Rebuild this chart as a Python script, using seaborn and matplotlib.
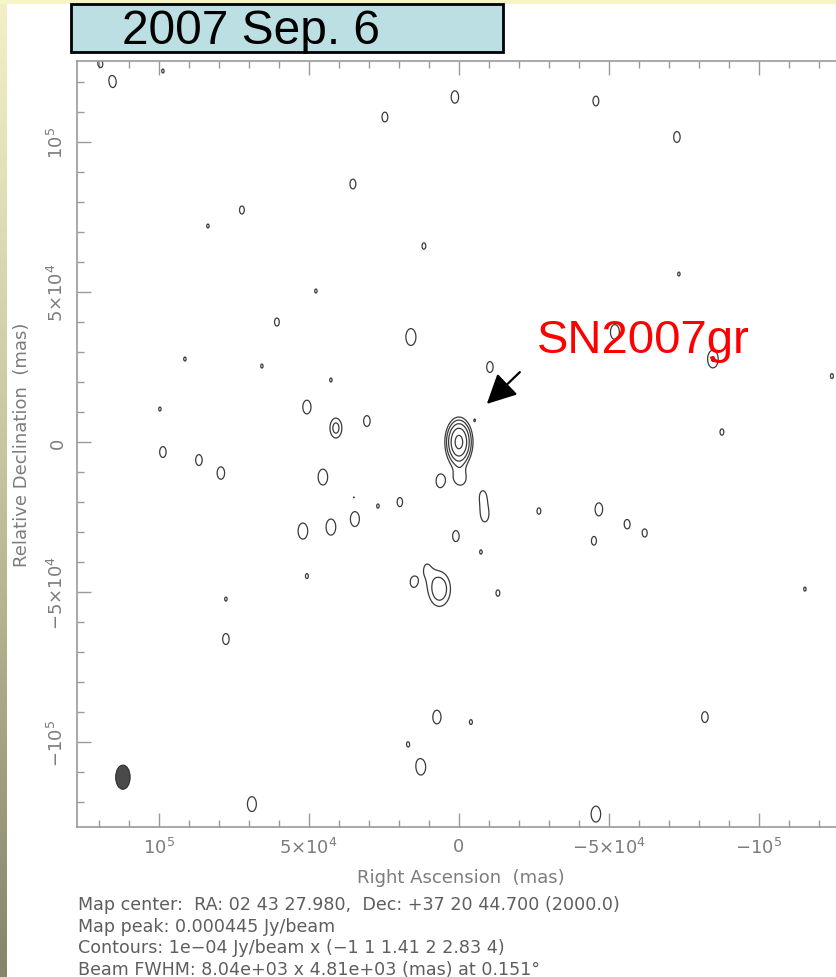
import numpy as np
import matplotlib
matplotlib.use("Agg")
import matplotlib.pyplot as plt
from matplotlib.patches import Ellipse, Rectangle
from matplotlib.colors import LinearSegmentedColormap
from matplotlib.ticker import MultipleLocator, FixedLocator, FixedFormatter
import seaborn as sns

# ---------------------------------------------------------------------------
# Clean-component model of the 2007 Sep. 6 map (offsets in mas, peaks in Jy/beam)
# ---------------------------------------------------------------------------
# Unresolved components (restored with the beam)
pt_ra = [115333, 119667, 98667, 1333, -45667, 24667, -72667, 35333, 72333, 83667,
         11667, -73333, 47667, 60667, 16000, 91333, 65667, -10333, -84667, -52000,
         -124333, 42667, 99667, 50667, 41000, 30667, 6333, -8000, 27000,
         19667, 45333, 34667, 42667, 52000, -8667, 1000, -7333, 50667,
         -26667, -46667, -56000, -62000, -45000, 15333, -13000, 77667, 77667, -115333,
         -87667, 7333, -4000, -82000, 17000, 12667, 69000, -45667, 98667, 86667,
         79333]
pt_dec = [120000, 126333, 123667, 115000, 113667, 108333, 101667, 86000, 77333, 72000,
          65333, 56000, 50333, 40000, 35000, 27667, 25333, 25000, 27667, 36667,
          22000, 20667, 11000, 11667, 4667, 7000, -13000, -17667, -21333,
          -20000, -11667, -25667, -28333, -29667, -24667, -31333, -36667, -44667,
          -23000, -22333, -27333, -30333, -33000, -46667, -50333, -52333, -65667, -49000,
          3333, -91667, -93333, -91667, -100667, -108333, -120667, -124000, -3333, -6000,
          -10333]
pt_peak = [1.15e-4, 1.05e-4, 1.02e-4, 1.20e-4, 1.12e-4, 1.12e-4, 1.15e-4, 1.12e-4, 1.08e-4, 1.02e-4,
           1.05e-4, 1.02e-4, 1.02e-4, 1.08e-4, 1.40e-4, 1.02e-4, 1.02e-4, 1.15e-4, 1.45e-4, 1.30e-4,
           1.03e-4, 1.02e-4, 1.02e-4, 1.25e-4, 1.60e-4, 1.15e-4, 1.20e-4, 1.03e-4, 1.02e-4,
           1.10e-4, 1.35e-4, 1.30e-4, 1.36e-4, 1.36e-4, 1.12e-4, 1.15e-4, 1.02e-4, 1.03e-4,
           1.05e-4, 1.20e-4, 1.10e-4, 1.07e-4, 1.08e-4, 1.06e-4, 1.05e-4, 1.02e-4, 1.15e-4, 1.02e-4,
           1.05e-4, 1.25e-4, 1.03e-4, 1.15e-4, 1.02e-4, 1.35e-4, 1.30e-4, 1.35e-4, 1.15e-4, 1.15e-4,
           1.20e-4]

# Resolved / compact components: SN2007gr core, its southern extension,
# the southern blob, and two compact knots next to brighter emission
ext_ra = [0, -500, 6500, 11000, -5333, 35000]
ext_dec = [0, -12500, -49000, -41000, 7333, -18333]
ext_peak = [4.45e-4, 1.15e-4, 1.80e-4, 0.75e-4, 0.86e-4, 0.88e-4]
ext_fwhm_ra = [6400, 6000, 8000, 4810, 1500, 1500]
ext_fwhm_dec = [11360, 7000, 12500, 8040, 2500, 2500]

# Restoring beam and contour scheme
beam_major = 8.04e3
beam_minor = 4.81e3
beam_pa = 0.151
beam_pos = (1.12e5, -1.117e5)
contour_base = 1e-4
contour_mult = [-1, 1, 1.41, 2, 2.83, 4]

x_ticks = [1e5, 5e4, 0, -5e4, -1e5]
x_ticklabels = [r"$10^5$", r"$5{\times}10^4$", "0", r"$-5{\times}10^4$", r"$-10^5$"]
y_ticks = [-1e5, -5e4, 0, 5e4, 1e5]
y_ticklabels = [r"$-10^5$", r"$-5{\times}10^4$", "0", r"$5{\times}10^4$", r"$10^5$"]

footer_lines = [
    "Map center:  RA: 02 43 27.980,  Dec: +37 20 44.700 (2000.0)",
    "Map peak: 0.000445 Jy/beam",
    "Contours: 1e\u221204 Jy/beam x (\u22121 1 1.41 2 2.83 4)",
    "Beam FWHM: 8.04e+03 x 4.81e+03 (mas) at 0.151\u00b0",
]
epoch_label = "2007 Sep. 6"
source_label = "SN2007gr"
label_anchor = (-26000, 30000)
arrow_tail = (-20300, 23300)
arrow_head = (-9300, 12700)

# ---------------------------------------------------------------------------
sns.set_theme(style="white")
plt.rcParams["font.family"] = ["DejaVu Sans"]
plt.rcParams["mathtext.fontset"] = "dejavusans"

W, H = 836, 978
fig = plt.figure(figsize=(W / 100, H / 100), dpi=100)
fig.patch.set_facecolor("white")

# slide decoration: pale top band and shaded left band
fig.patches.append(Rectangle((0, 1 - 5 / H), 1, 5 / H, transform=fig.transFigure,
                             facecolor="#F7F5C6", edgecolor="none", zorder=0))
strip = fig.add_axes([0, 0, 7 / W, 1])
cmap = LinearSegmentedColormap.from_list("band", ["#F3F1C4", "#C4C29C", "#86856A"])
strip.imshow(np.linspace(0, 1, 256)[:, None], aspect="auto", cmap=cmap)
strip.set_axis_off()

# map axes
ax = fig.add_axes([77 / W, 1 - 828 / H, 768 / W, 766 / H])
ax.set_facecolor("white")

gx = np.arange(1.31e5, -1.31e5, -250.0)
gy = np.arange(-1.31e5, 1.31e5, 250.0)
X, Y = np.meshgrid(gx, gy)
Z = np.zeros_like(X)
k = 4 * np.log(2)
for ra, dec, pk in zip(pt_ra, pt_dec, pt_peak):
    Z += pk * np.exp(-k * (((X - ra) / beam_minor) ** 2 + ((Y - dec) / beam_major) ** 2))
for ra, dec, pk, fr, fd in zip(ext_ra, ext_dec, ext_peak, ext_fwhm_ra, ext_fwhm_dec):
    Z += pk * np.exp(-k * (((X - ra) / fr) ** 2 + ((Y - dec) / fd) ** 2))

levels = [contour_base * m for m in contour_mult]
ax.contour(X, Y, Z, levels=levels, colors="#3a3a3a", linewidths=0.9)

ax.add_patch(Ellipse(beam_pos, beam_minor, beam_major, angle=beam_pa,
                     facecolor="#4a4a4a", edgecolor="#2e2e2e", linewidth=0.8))

ax.set_xlim(1.273e5, -1.287e5)
ax.set_ylim(-1.283e5, 1.27e5)

axis_grey = "#9a9a9a"
label_grey = "#7c7c7c"
for side, sp in ax.spines.items():
    sp.set_color(axis_grey)
    sp.set_linewidth(1.2)
    sp.set_visible(True)

ax.xaxis.set_major_locator(FixedLocator(x_ticks))
ax.xaxis.set_major_formatter(FixedFormatter(x_ticklabels))
ax.yaxis.set_major_locator(FixedLocator(y_ticks))
ax.yaxis.set_major_formatter(FixedFormatter(y_ticklabels))
ax.xaxis.set_minor_locator(MultipleLocator(1e4))
ax.yaxis.set_minor_locator(MultipleLocator(1e4))
ax.tick_params(which="both", direction="in", bottom=True, left=True, top=True, right=False,
               color=axis_grey, width=1.0, labelcolor=label_grey, labelsize=13)
ax.tick_params(which="major", length=10, pad=7)
ax.tick_params(which="minor", length=5)
ax.tick_params(axis="y", labelrotation=90)
for t in ax.get_yticklabels():
    t.set_va("center")

ax.set_xlabel("Right Ascension  (mas)", color=label_grey, fontsize=13, labelpad=8)
ax.set_ylabel("Relative Declination  (mas)", color=label_grey, fontsize=13, labelpad=12)

# source label and pointer
ax.text(label_anchor[0], label_anchor[1], source_label, color="#FF0000",
        fontsize=34, family="Liberation Sans", ha="left", va="baseline")
ax.annotate("", xy=arrow_head, xytext=arrow_tail,
            arrowprops=dict(arrowstyle="-|>,head_length=1.0,head_width=0.5",
                            color="black", lw=1.6, mutation_scale=18,
                            shrinkA=0, shrinkB=0))

# epoch box
fig.patches.append(Rectangle((71 / W, 1 - 53 / H), 432 / W, 48 / H, transform=fig.transFigure,
                             facecolor="#BBDFE2", edgecolor="black", linewidth=2, zorder=2))
fig.text(122 / W, 1 - 31 / H, epoch_label, fontsize=34.5, family="Liberation Sans",
         color="black", ha="left", va="center", zorder=3)

# map footer
for i, line in enumerate(footer_lines):
    fig.text(78 / W, 1 - (905 + 21.7 * i) / H, line, fontsize=12.6, color="#5e5e5e",
             ha="left", va="center")

fig.savefig("out.png", dpi=100)
